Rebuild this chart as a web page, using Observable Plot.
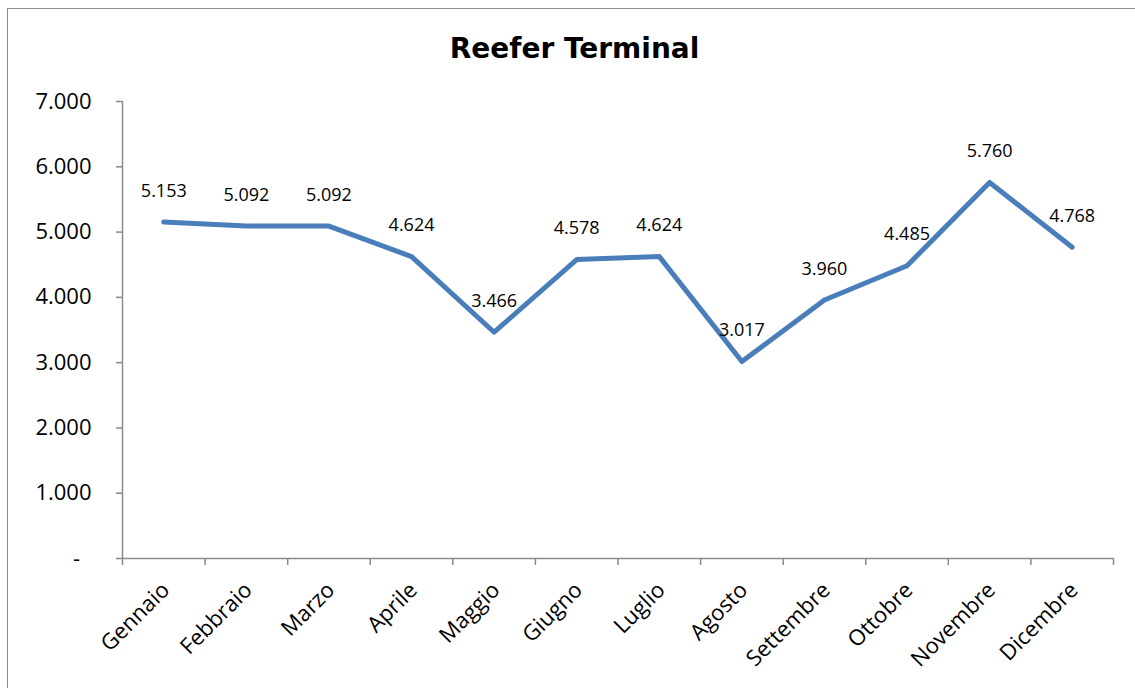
<!DOCTYPE html>
<html>
<head>
<meta charset="utf-8">
<script src="https://cdn.jsdelivr.net/npm/d3@7"></script>
<script src="https://cdn.jsdelivr.net/npm/@observablehq/plot@0.6"></script>
<style>
  html, body { margin: 0; padding: 0; background: #fff; overflow: hidden; width: 1135px; height: 688px; }
  #frame { position: absolute; left: 7px; top: 8px; width: 1128px; height: 680px; border-left: 1.5px solid #8c8c8c; border-top: 1.5px solid #8c8c8c; box-sizing: border-box; }
  #title { position: absolute; left: 7px; top: 8px; width: 1135px; height: 80px; display: flex; align-items: center; justify-content: center;
           font-family: "DejaVu Sans", sans-serif; font-weight: bold; font-size: 28px; color: #000; }
  #chart { position: absolute; left: 0; top: 80px; }
</style>
</head>
<body>
<div id="frame"></div>
<div id="title">Reefer Terminal</div>
<div id="chart"></div>
<script>
const months = ["Gennaio", "Febbraio", "Marzo", "Aprile", "Maggio", "Giugno", "Luglio", "Agosto", "Settembre", "Ottobre", "Novembre", "Dicembre"];
const values = [5153, 5092, 5092, 4624, 3466, 4578, 4624, 3017, 3960, 4485, 5760, 4768];
const yTicks = [0, 1000, 2000, 3000, 4000, 5000, 6000, 7000];

const data = months.map((m, i) => ({month: m, pos: i + 0.5, value: values[i]}));
const fmt = v => v === 0 ? "-\u00a0\u00a0" : d3.format(",")(v).replace(/,/g, ".");
const fmtLabel = v => d3.format(",")(v).replace(/,/g, ".");
const axisColor = "#8a8a8a";

const chart = Plot.plot({
  width: 1135,
  height: 608,
  marginLeft: 122,
  marginRight: 22,
  marginTop: 21,
  marginBottom: 130,
  style: {fontFamily: "'Open Sans', sans-serif", color: "#000", background: "transparent"},
  x: {type: "linear", domain: [0, months.length], axis: null},
  y: {domain: [0, 7000], axis: null},
  marks: [
    Plot.ruleX([0], {stroke: axisColor, strokeWidth: 1.5}),
    Plot.ruleY([0], {stroke: axisColor, strokeWidth: 1.5}),
    Plot.axisY({ticks: yTicks, tickFormat: fmt, tickSize: 6, tickPadding: 25, stroke: axisColor, strokeWidth: 1.5, fontSize: 22, label: null}),
    Plot.axisX({ticks: d3.range(0, months.length + 1), tickFormat: () => "", tickSize: 7, stroke: axisColor, strokeWidth: 1.5, label: null}),
    Plot.axisX({ticks: data.map(d => d.pos), tickFormat: (d) => months[Math.floor(d)], tickSize: 0, tickPadding: 28, tickRotate: -45, dx: 2, fontSize: 22, label: null}),
    Plot.line(data, {x: "pos", y: "value", stroke: "#4a7ebb", strokeWidth: 5, strokeLinecap: "round", strokeLinejoin: "round"}),
    Plot.text(data, {x: "pos", y: "value", text: d => fmtLabel(d.value), dy: -31, fontSize: 18, fill: "#000"})
  ]
});
document.getElementById("chart").appendChild(chart);
</script>
</body>
</html>
